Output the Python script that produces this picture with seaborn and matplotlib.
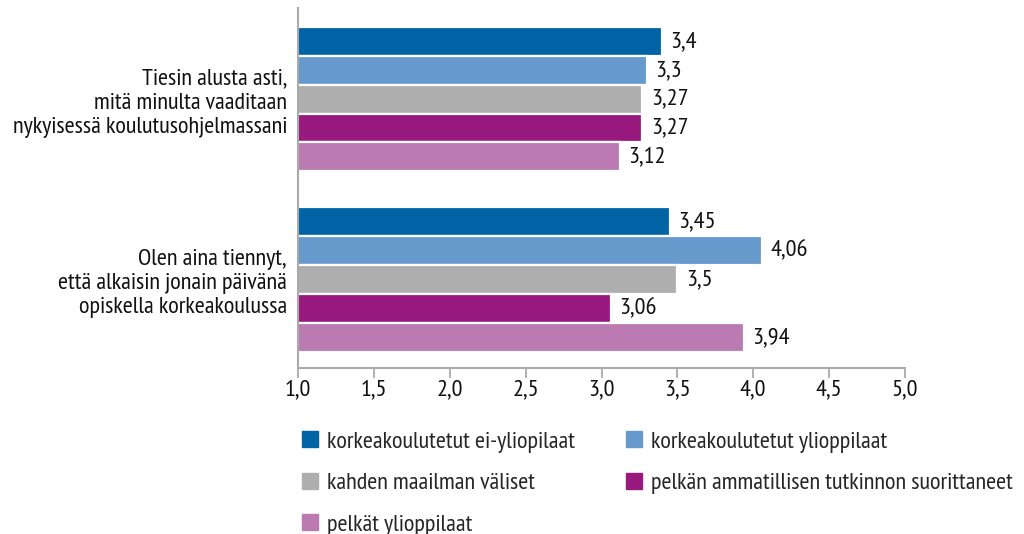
import matplotlib
matplotlib.use("Agg")
import matplotlib.pyplot as plt
from matplotlib.lines import Line2D
import seaborn as sns
import pandas as pd

categories = [
    "Tiesin alusta asti,\nmitä minulta vaaditaan\nnykyisessä koulutusohjelmassani",
    "Olen aina tiennyt,\nettä alkaisin jonain päivänä\nopiskella korkeakoulussa",
]
groups = [
    "korkeakoulutetut ei-yliopilaat",
    "korkeakoulutetut ylioppilaat",
    "kahden maailman väliset",
    "pelkän ammatillisen tutkinnon suorittaneet",
    "pelkät ylioppilaat",
]
values_q1 = [3.4, 3.3, 3.27, 3.27, 3.12]
values_q2 = [3.45, 4.06, 3.5, 3.06, 3.94]
colors = ["#0063A6", "#6699CC", "#AEAEAE", "#981A7F", "#BC7AB3"]
xticks = [1.0, 1.5, 2.0, 2.5, 3.0, 3.5, 4.0, 4.5, 5.0]

rows = []
for cat, vals in zip(categories, [values_q1, values_q2]):
    for g, v in zip(groups, vals):
        rows.append({"kysymys": cat, "ryhmä": g, "arvo": v})
df = pd.DataFrame(rows)

sns.set_theme(style="white")
plt.rcParams["font.family"] = ["PT Sans Narrow", "Fira Sans Condensed", "DejaVu Sans"]
FS = 17.5

fig = plt.figure(figsize=(10.24, 5.34), dpi=100)
ax = fig.add_axes([298 / 1024, 1 - 368 / 534, (905 - 298) / 1024, 360 / 534])

sns.barplot(data=df, y="kysymys", x="arvo", hue="ryhmä", hue_order=groups,
            palette=colors, orient="h", width=0.8, ax=ax, legend=False,
            edgecolor="white", linewidth=1.6, saturation=1)

for cont in ax.containers:
    labels = [f"{b.get_width():g}".replace(".", ",") for b in cont]
    ax.bar_label(cont, labels=labels, padding=6, fontsize=FS, color="#111111")

ax.set_xlim(1.0, 5.0)
ax.set_ylim(1.49, -0.505)
ax.set_xticks(xticks)
ax.set_xticklabels([f"{t:.1f}".replace(".", ",") for t in xticks], fontsize=FS, color="#111111")
ax.tick_params(axis="x", direction="out", length=7, width=1.3, color="#AAAAAA", pad=1, bottom=True)
ax.tick_params(axis="y", length=0, pad=8, labelsize=FS, labelcolor="#111111")
ax.set_xlabel("")
ax.set_ylabel("")
for s in ["top", "right"]:
    ax.spines[s].set_visible(False)
for s in ["left", "bottom"]:
    ax.spines[s].set_color("#AAAAAA")
    ax.spines[s].set_linewidth(1.5)

order = [0, 2, 4, 1, 3]
handles = [Line2D([], [], marker="s", linestyle="none", markersize=11.5,
                  markerfacecolor=colors[i], markeredgecolor=colors[i]) for i in order]
fig.legend(handles, [groups[i] for i in order], loc="upper left",
           bbox_to_anchor=(288 / 1024, 1 - 421 / 534), ncol=2, frameon=False,
           fontsize=FS, handlelength=1.0, handletextpad=0.2, labelspacing=0.8,
           columnspacing=1.95, borderaxespad=0)

fig.savefig("out.png", dpi=100)
